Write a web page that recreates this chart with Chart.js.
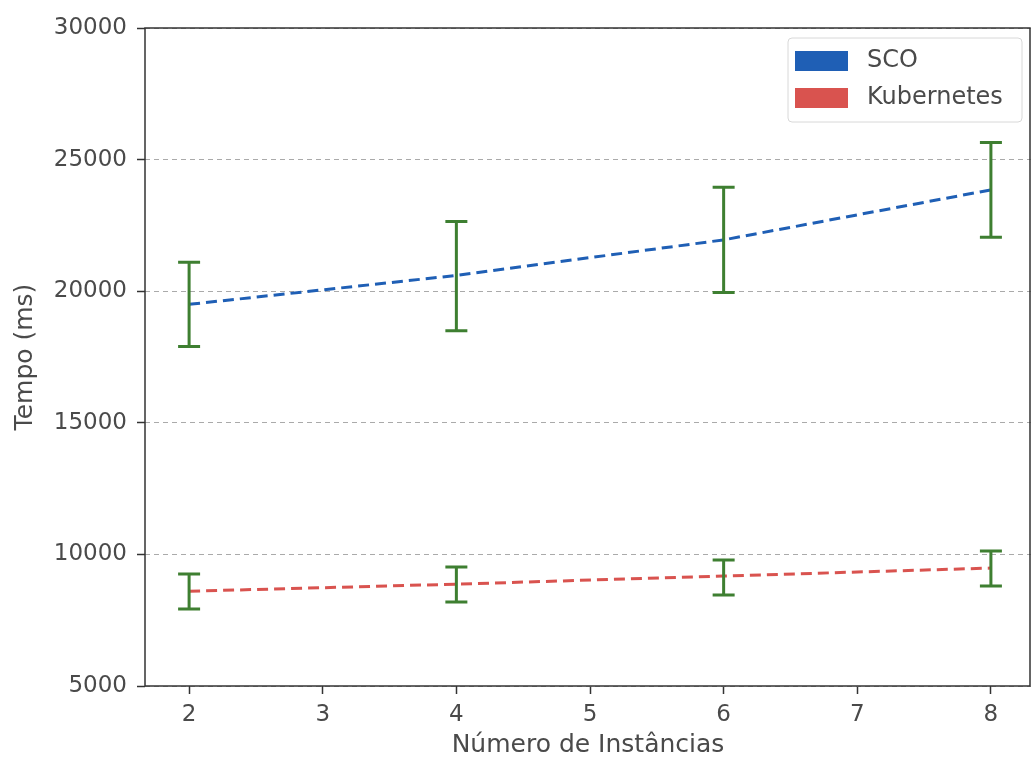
<!DOCTYPE html>
<html><head><meta charset="utf-8">
<script src="https://cdn.jsdelivr.net/npm/chart.js@4"></script>
<style>html,body{margin:0;padding:0;background:#fff}#wrap{width:1031px;height:762px}</style>
</head><body><div id="wrap"><canvas id="c" width="1031" height="762"></canvas></div>
<script>
const instances = [2, 4, 6, 8];
const scoMean = [19500, 20600, 21950, 23850];
const scoLow = [17900, 18500, 19950, 22050];
const scoHigh = [21100, 22650, 23950, 25650];
const k8sMean = [8600, 8870, 9180, 9480];
const k8sLow = [7930, 8190, 8460, 8800];
const k8sHigh = [9260, 9520, 9790, 10130];
const xTicks = [2, 3, 4, 5, 6, 7, 8];
const yTicks = [5000, 10000, 15000, 20000, 25000, 30000];

const FONT = "'DejaVu Sans', sans-serif";
const TXT = '#4a4a4a';

const errorBars = {
  id: 'errorBars',
  afterDatasetsDraw(chart) {
    const ctx = chart.ctx, xs = chart.scales.x, ys = chart.scales.y;
    const sets = [[scoLow, scoHigh], [k8sLow, k8sHigh]];
    ctx.save();
    ctx.strokeStyle = '#3e7f31';
    ctx.lineWidth = 3;
    sets.forEach(([lo, hi]) => {
      instances.forEach((xv, i) => {
        const px = xs.getPixelForValue(xv);
        const y1 = ys.getPixelForValue(lo[i]), y2 = ys.getPixelForValue(hi[i]);
        ctx.beginPath();
        ctx.moveTo(px, y1); ctx.lineTo(px, y2);
        ctx.moveTo(px - 11, y1); ctx.lineTo(px + 11, y1);
        ctx.moveTo(px - 11, y2); ctx.lineTo(px + 11, y2);
        ctx.stroke();
      });
    });
    ctx.restore();
  }
};

const frameLegend = {
  id: 'frameLegend',
  afterDraw(chart) {
    const ctx = chart.ctx, a = chart.chartArea;
    ctx.save();
    ctx.strokeStyle = '#333';
    ctx.lineWidth = 1.5;
    ctx.strokeRect(a.left, a.top, a.right - a.left - 1, a.bottom - a.top);
    // legend
    const lx = 788, ly = 38, lw = 234, lh = 84;
    ctx.fillStyle = 'rgba(255,255,255,0.85)';
    ctx.strokeStyle = '#d8d8d8';
    ctx.lineWidth = 1;
    ctx.beginPath();
    ctx.roundRect(lx, ly, lw, lh, 4);
    ctx.fill(); ctx.stroke();
    ctx.font = '24px ' + FONT;
    ctx.textBaseline = 'middle';
    chart.data.datasets.forEach((ds, i) => {
      const yy = 61 + i * 37;
      ctx.fillStyle = ds.borderColor;
      ctx.fillRect(795, yy - 10, 53, 20);
      ctx.fillStyle = TXT;
      ctx.fillText(ds.label, 867, yy);
    });
    ctx.restore();
  }
};

new Chart(document.getElementById('c'), {
  type: 'line',
  data: {
    datasets: [
      { label: 'SCO', data: instances.map((x, i) => ({x, y: scoMean[i]})), borderColor: '#1f5fb5', borderWidth: 3, borderDash: [11, 6], pointRadius: 0, fill: false },
      { label: 'Kubernetes', data: instances.map((x, i) => ({x, y: k8sMean[i]})), borderColor: '#d9534f', borderWidth: 3, borderDash: [11, 6], pointRadius: 0, fill: false }
    ]
  },
  options: {
    responsive: false,
    animation: false,
    layout: { padding: { top: 28, right: 0, left: 0, bottom: 0 } },
    plugins: { legend: { display: false }, tooltip: { enabled: false } },
    scales: {
      x: {
        type: 'linear', min: 1.67, max: 8.3,
        afterBuildTicks: s => { s.ticks = xTicks.map(v => ({value: v})); },
        afterFit: s => { s.height = 76; },
        grid: { drawOnChartArea: false, tickLength: 8, tickColor: '#333', tickWidth: 1.5 },
        border: { display: false },
        ticks: { color: TXT, font: { family: FONT, size: 23 }, padding: 7, maxRotation: 0 },
        title: { display: true, text: 'Número de Instâncias', color: TXT, font: { family: FONT, size: 25 }, padding: { top: 0, bottom: 2 } }
      },
      y: {
        min: 5000, max: 30000,
        afterBuildTicks: s => { s.ticks = yTicks.map(v => ({value: v})); },
        afterFit: s => { s.width = 145; },
        grid: { color: '#aaaaaa', lineWidth: 1, tickLength: 8, tickColor: '#333', tickWidth: 1.5, tickBorderDash: [] },
        border: { display: false, dash: [5, 4] },
        ticks: { color: TXT, font: { family: FONT, size: 23 }, padding: 10, callback: v => String(v) },
        title: { display: true, text: 'Tempo (ms)', color: TXT, font: { family: FONT, size: 25 }, padding: { top: 10, bottom: 0 } }
      }
    }
  },
  plugins: [errorBars, frameLegend]
});
</script></body></html>
